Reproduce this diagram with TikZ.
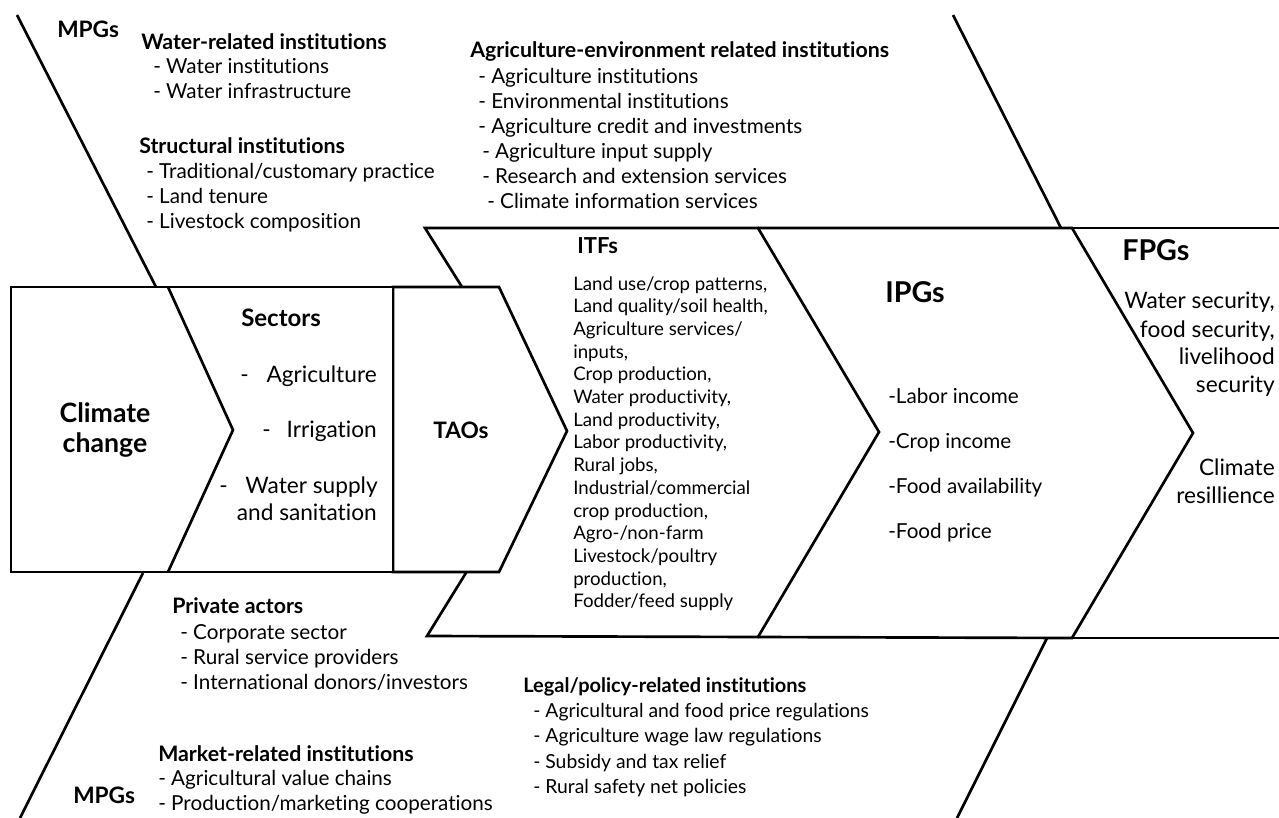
\documentclass[tikz,border=0pt]{standalone}
\usepackage{fontspec}
\setmainfont{Lato}[Ligatures={NoCommon}]
\begin{document}
\begin{tikzpicture}[x=0.75pt,y=-0.75pt,
  bd/.style={line width=2pt, line join=miter},
  tx/.style={inner sep=0pt, anchor=base west},
  t/.style={tx, font=\fontsize{15.5}{18}\selectfont},
  tb/.style={tx, font=\fontsize{16}{18}\selectfont\bfseries},
  tl/.style={tx, font=\fontsize{14.5}{17}\selectfont},
  tlb/.style={tx, font=\fontsize{15}{17}\selectfont\bfseries},
  itf/.style={tx, font=\fontsize{14}{16}\selectfont},
  big/.style={tx, font=\fontsize{17}{20}\selectfont},
  bigb/.style={tx, font=\fontsize{17}{20}\selectfont\bfseries}]
\useasboundingbox (0,0) rectangle (1279,818);
\fill[white] (0,0) rectangle (1279,818);
% fishbone lines
\draw[bd] (17,15) -- (156,287);
\draw[bd] (143,573) -- (20,818);
\draw[bd] (953,15) -- (1061,228);
\draw[bd] (1047,638) -- (957,818);
% ITFs chevron (behind TAOs)
\draw[bd, fill=white] (425,228) -- (758,228) -- (879,432) -- (758,637) -- (427,636) -- (553,432) -- cycle;
% IPGs
\draw[bd] (758,228) -- (1072,228) -- (1193,433) -- (1072,638) -- (758,637);
% FPGs
\draw[bd] (1072,228) -- (1290,228);
\draw[bd] (1072,638) -- (1290,638);
% Climate / Sectors / TAOs
\draw[bd, fill=white] (393,287) -- (499,287) -- (567,431) -- (499,572) -- (393,572) -- cycle;
\draw[bd, fill=white] (11,287) -- (393,287) -- (393,572) -- (11,572) -- cycle;
\draw[bd] (168,287) -- (233,430) -- (168,572);
% ---- texts top-left
\node[tx, font=\fontsize{17}{20}\selectfont\bfseries] (mpg1) at (57,37) {MPGs};
\node[tb] (wr) at (141,49) {Water-related institutions};
\node[t] (wr1) at (153,73) {- Water institutions};
\node[t] (wr2) at (153,98) {- Water infrastructure};
\node[tb] (si) at (139,153) {Structural institutions};
\node[t] (si1) at (146,178) {- Traditional/customary practice};
\node[t] (si2) at (146,203) {- Land tenure};
\node[t] (si3) at (146,228) {- Livestock composition};
% top-middle
\node[tb] (ae) at (470,57) {Agriculture-environment related institutions};
\node[t] (ae1) at (478,83) {- Agriculture institutions};
\node[t] (ae2) at (478,108) {- Environmental institutions};
\node[t] (ae3) at (478,133) {- Agriculture credit and investments};
\node[t] (ae4) at (482,158) {- Agriculture input supply};
\node[t] (ae5) at (482,183) {- Research and extension services};
\node[t] (ae6) at (487,208) {- Climate information services};
% ITFs
\node[tx, font=\fontsize{16.5}{19}\selectfont\bfseries] (itfs) at (577,253) {ITFs};
\foreach \s [count=\i from 0] in {{Land use/crop patterns,}, {Land quality/soil health,}, {Agriculture services/}, {inputs,}, {Crop production,}, {Water productivity,}, {Land productivity,}, {Labor productivity,}, {Rural jobs,}, {Industrial/commercial}, {crop production,}, {Agro-/non-farm}, {Livestock/poultry}, {production,}, {Fodder/feed supply}}
  \node[itf] (itf\i) at (573,290+22.7*\i) {\s};
% TAOs
\node[bigb] (taos) at (433,438) {TAOs};
% Climate change
\node[inner sep=0pt, anchor=base, font=\fontsize{20}{24}\selectfont\bfseries] (cc1) at (105,422) {Climate};
\node[inner sep=0pt, anchor=base, font=\fontsize{20}{24}\selectfont\bfseries] (cc2) at (105,452) {change};
% Sectors
\node[tx, font=\fontsize{18}{21}\selectfont\bfseries] (sec) at (241,326) {Sectors};
\node[big] (d1) at (240,382) {-};
\node[big, anchor=base east] (s1) at (377,382) {Agriculture};
\node[big] (d2) at (262,437) {-};
\node[big, anchor=base east] (s2) at (377,437) {Irrigation};
\node[big] (d3) at (219,493) {-};
\node[big, anchor=base east] (s3) at (378,493) {Water supply};
\node[big, anchor=base east] (s4) at (377,520) {and sanitation};
% IPGs
\node[tx, font=\fontsize{21.5}{25}\selectfont\bfseries] (ipgs) at (885,302) {IPGs};
\node[t] (ip1) at (888,403) {-Labor income};
\node[t] (ip2) at (888,448) {-Crop income};
\node[t] (ip3) at (888,493) {-Food availability};
\node[t] (ip4) at (888,538) {-Food price};
% FPGs
\node[tx, font=\fontsize{21.5}{25}\selectfont\bfseries] (fpgs) at (1122,260) {FPGs};
\node[big, anchor=base east] (f1) at (1275,308) {Water security,};
\node[big, anchor=base east] (f2) at (1275,337) {food security,};
\node[big, anchor=base east] (f3) at (1275,364) {livelihood};
\node[big, anchor=base east] (f4) at (1275,392) {security};
\node[big, anchor=base east] (f5) at (1275,475) {Climate};
\node[big, anchor=base east] (f6) at (1275,503) {resillience};
% bottom-left
\node[tb] (pa) at (172,613) {Private actors};
\node[t] (pa1) at (180,639) {- Corporate sector};
\node[t] (pa2) at (180,664) {- Rural service providers};
\node[t] (pa3) at (180,689) {- International donors/investors};
\node[tb] (mr) at (158,761) {Market-related institutions};
\node[t] (mr1) at (158,785) {- Agricultural value chains};
\node[t] (mr2) at (158,810) {- Production/marketing cooperations};
\node[tx, font=\fontsize{17}{20}\selectfont\bfseries] (mpg2) at (73,803) {MPGs};
% bottom-middle
\node[tlb] (lp) at (523,692) {Legal/policy-related institutions};
\node[tl] (lp1) at (533,717) {- Agricultural and food price regulations};
\node[tl] (lp2) at (533,742) {- Agriculture wage law regulations};
\node[tl] (lp3) at (533,768) {- Subsidy and tax relief};
\node[tl] (lp4) at (533,793) {- Rural safety net policies};
\end{tikzpicture}
\end{document}
